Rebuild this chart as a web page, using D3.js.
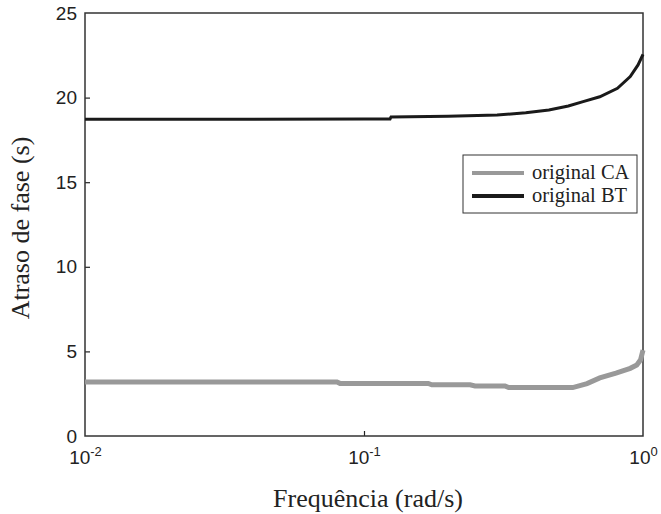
<!DOCTYPE html>
<html>
<head>
<meta charset="utf-8">
<script src="https://cdn.jsdelivr.net/npm/d3@7"></script>
<style>
  body { margin: 0; background: #fff; }
  .tick text { font-family: "Liberation Sans", Arial, sans-serif; font-size: 19px; fill: #222; }
  .title { font-family: "Liberation Serif", "Times New Roman", serif; font-size: 26px; fill: #222; }
  .leg { font-family: "Liberation Serif", "Times New Roman", serif; font-size: 20.5px; fill: #222; }
</style>
</head>
<body>
<script>
// frequency (rad/s) and phase delay (s)
const freqCA = [0.01, 0.08, 0.082, 0.17, 0.175, 0.24, 0.25, 0.32, 0.33, 0.56, 0.63, 0.70, 0.80, 0.90, 0.95, 0.98, 1.0];
const delayCA = [3.19, 3.19, 3.11, 3.11, 3.03, 3.03, 2.96, 2.96, 2.86, 2.86, 3.1, 3.43, 3.72, 4.0, 4.2, 4.5, 5.08];
const freqBT = [0.01, 0.03, 0.1, 0.124, 0.125, 0.2, 0.3, 0.38, 0.46, 0.54, 0.61, 0.7, 0.81, 0.9, 0.96, 1.0];
const delayBT = [18.72, 18.72, 18.73, 18.74, 18.86, 18.9, 18.97, 19.1, 19.27, 19.5, 19.76, 20.05, 20.55, 21.24, 21.93, 22.56];
const xTicks = [0.01, 0.1, 1];
const xTickExp = ["-2", "-1", "0"];
const yTicks = [0, 5, 10, 15, 20, 25];
const seriesNames = ["original CA", "original BT"];
const seriesColors = ["#999999", "#1a1a1a"];

const w = 661, h = 514;
const plotL = 85, plotR = 643, plotT = 13, plotB = 436;

const svg = d3.select("body").append("svg").attr("width", w).attr("height", h);

const xScale = d3.scaleLog().domain([0.01, 1]).range([plotL, plotR]);
const yScale = d3.scaleLinear().domain([0, 25]).range([plotB, plotT]);

//axes, ticks pointing inward
const xAxis = d3.axisBottom(xScale).tickValues(xTicks).tickSize(-5).tickPadding(15).tickFormat(() => "10");
const yAxis = d3.axisLeft(yScale).tickValues(yTicks).tickSize(-5).tickPadding(8).tickFormat(d3.format("d"));

const gx = svg.append("g").attr("transform", "translate(0," + plotB + ")").call(xAxis);
gx.selectAll(".tick text").each(function(d, i) {
  d3.select(this).append("tspan").attr("dy", "-8").style("font-size", "13px").text(xTickExp[i]);
});
const gy = svg.append("g").attr("transform", "translate(" + plotL + ",0)").call(yAxis);
[gx, gy].forEach(g => {
  g.select(".domain").remove();
  g.selectAll(".tick line").attr("stroke", "#222").attr("stroke-width", 1.2);
  g.selectAll(".tick").filter(d => d === 0 || d === 25 || d === 0.01 || d === 1).select("line").remove();
});

//box
svg.append("rect").attr("x", plotL).attr("y", plotT).attr("width", plotR - plotL).attr("height", plotB - plotT)
  .attr("fill", "none").attr("stroke", "#333").attr("stroke-width", 1.5);

const line = d3.line().x(d => xScale(d[0])).y(d => yScale(d[1]));

svg.append("path").datum(freqCA.map((f, i) => [f, delayCA[i]]))
  .attr("d", line).attr("fill", "none").attr("stroke", seriesColors[0]).attr("stroke-width", 5);
svg.append("path").datum(freqBT.map((f, i) => [f, delayBT[i]]))
  .attr("d", line).attr("fill", "none").attr("stroke", seriesColors[1]).attr("stroke-width", 3);

//legend
const leg = svg.append("g").attr("transform", "translate(463,155)");
leg.append("rect").attr("width", 174).attr("height", 58).attr("fill", "#fff").attr("stroke", "#333").attr("stroke-width", 1);
seriesNames.forEach((name, i) => {
  const y = 18 + i * 23;
  leg.append("line").attr("x1", 9).attr("x2", 61).attr("y1", y).attr("y2", y)
    .attr("stroke", seriesColors[i]).attr("stroke-width", 4);
  leg.append("text").attr("class", "leg").attr("x", 69).attr("y", y + 6).text(name);
});

//axis titles
svg.append("text").attr("class", "title").attr("x", 368).attr("y", 507)
  .attr("text-anchor", "middle").text("Frequência (rad/s)");
svg.append("text").attr("class", "title").attr("transform", "translate(29,228) rotate(-90)")
  .attr("text-anchor", "middle").text("Atraso de fase (s)");
</script>
</body>
</html>
